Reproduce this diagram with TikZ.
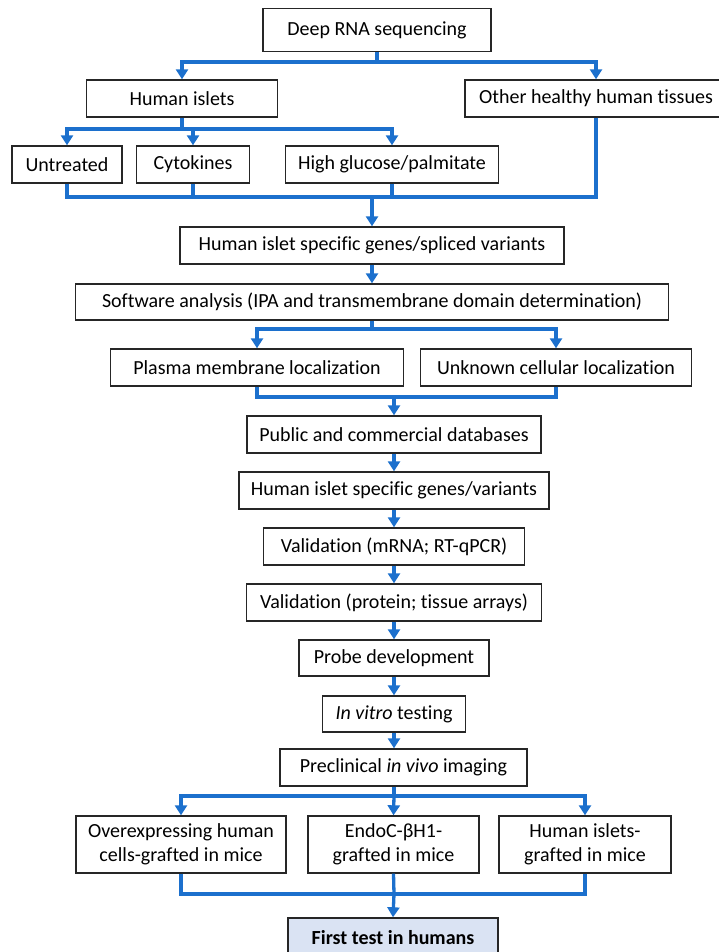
\documentclass[tikz,border=0pt]{standalone}
\usepackage{fontspec}
\setmainfont{Carlito}[Ligatures=NoCommon]
\usepackage{tikz}
\usetikzlibrary{positioning}
\usetikzlibrary{arrows.meta}
\definecolor{flowblue}{RGB}{28,112,205}
\definecolor{lightfill}{RGB}{218,227,243}

\begin{document}
\begin{tikzpicture}[x=1pt, y=-1pt,
	box/.style={draw=black!85, line width=1.4pt, inner sep=0pt, align=center, font=\fontsize{20}{24.5}\selectfont},
	link/.style={draw=flowblue, line width=3.3pt},
	arr/.style={link, -{Triangle[width=12pt,length=10pt]}}]
			\useasboundingbox (0,0) rectangle (718,952);
			
			\node[box, minimum width=228, minimum height=43] (dna) at (377,30) {Deep RNA sequencing};
			\node[box, minimum width=191, minimum height=37] (islets) at (182,98.5) {Human islets};
			\node[box, minimum width=262, minimum height=37] (other) at (596,98.5) {Other healthy human tissues};
			\node[box, minimum width=110, minimum height=37] (untreated) at (67,164.5) {Untreated};
			\node[box, minimum width=113, minimum height=37] (cyto) at (193,164.5) {Cytokines};
			\node[box, minimum width=213, minimum height=37] (glucose) at (392,164.5) {High glucose/palmitate};
			\node[box, minimum width=384, minimum height=37] (spliced) at (372,245.5) {Human islet specific genes/spliced variants};
			\node[box, minimum width=593, minimum height=36] (software) at (372,302) {Software analysis (IPA and transmembrane domain determination)};
			\node[box, minimum width=293, minimum height=37] (plasma) at (257,367.5) {Plasma membrane localization};
			\node[box, minimum width=271, minimum height=37] (unknown) at (556,367.5) {Unknown cellular localization};
			\node[box, minimum width=294, minimum height=37] (public) at (394,434.5) {Public and commercial databases};
			\node[box, minimum width=310, minimum height=37] (variants) at (394,490.5) {Human islet specific genes/variants};
			\node[box, minimum width=261, minimum height=37] (mrna) at (394,546.5) {Validation (mRNA; RT-qPCR)};
			\node[box, minimum width=295, minimum height=37] (protein) at (394,602.5) {Validation (protein; tissue arrays)};
			\node[box, minimum width=190, minimum height=36] (probe) at (394,658) {Probe development};
			\node[box, minimum width=143, minimum height=36] (vitro) at (394,714) {\textit{In vitro} testing};
			\node[box, minimum width=247, minimum height=37] (preclin) at (403.5,767.5) {Preclinical \textit{in vivo} imaging};
			\node[box, minimum width=210, minimum height=57] (overexp) at (181,844.5) {Overexpressing human\\cells-grafted in mice};
			\node[box, minimum width=171, minimum height=57] (endoc) at (393.5,844.5) {EndoC-βH1-\\grafted in mice};
			\node[box, minimum width=172, minimum height=57] (isgraft) at (585,844.5) {Human islets-\\grafted in mice};
			\node[box, fill=lightfill, minimum width=210, minimum height=40, font=\fontsize{20}{24.5}\selectfont\bfseries] (first) at (393,938) {First test in humans};
			
			% branch and merge points
			\coordinate (b1) at (377,62);
			\coordinate (b2) at (182,129);
			\coordinate (m1) at (372,197);
			\coordinate (b3) at (372,329);
			\coordinate (m2) at (394,397);
			\coordinate (b4) at (394,796);
			\coordinate (m3) at (394,894);
			
			\draw[link] (dna) -- (b1);
			\draw[arr]  (b1) -| (islets.north);
			\draw[arr]  (b1) -| (other.north);
			
			\draw[link] (islets) -- (b2);
			\draw[arr]  (b2) -| (untreated.north);
			\draw[arr]  (b2) -| (cyto.north);
			\draw[arr]  (b2) -| (glucose.north);
			
			\draw[link] (untreated.south) |- (m1);
			\draw[link] (cyto.south) |- (m1);
			\draw[link] (glucose.south) |- (m1);
			\draw[link] (other.south) |- (m1);
			\draw[arr]  (m1) -- (spliced.north);
			
			\draw[arr]  (spliced) -- (software);
			
			\draw[link] (software) -- (b3);
			\draw[arr]  (b3) -| (plasma.north);
			\draw[arr]  (b3) -| (unknown.north);
			
			\draw[link] (plasma.south) |- (m2);
			\draw[link] (unknown.south) |- (m2);
			\draw[arr]  (m2) -- (public.north);
			
			\draw[arr]  (public) -- (variants);
			\draw[arr]  (variants) -- (mrna);
			\draw[arr]  (mrna) -- (protein);
			\draw[arr]  (protein) -- (probe);
			\draw[arr]  (probe) -- (vitro);
			\draw[arr]  (vitro.south) -- (vitro.south |- preclin.north);
			
			\draw[link] (preclin.south -| b4) -- (b4);
			\draw[arr]  (b4) -| (overexp.north);
			\draw[arr]  (b4) -- (endoc.north);
			\draw[arr]  (b4) -| (isgraft.north);
			
			\draw[link] (overexp.south) |- (m3);
			\draw[link] (endoc.south) -- (m3);
			\draw[link] (isgraft.south) |- (m3);
			\draw[arr]  (m3) -- (first.north);
\end{tikzpicture}
\end{document}
